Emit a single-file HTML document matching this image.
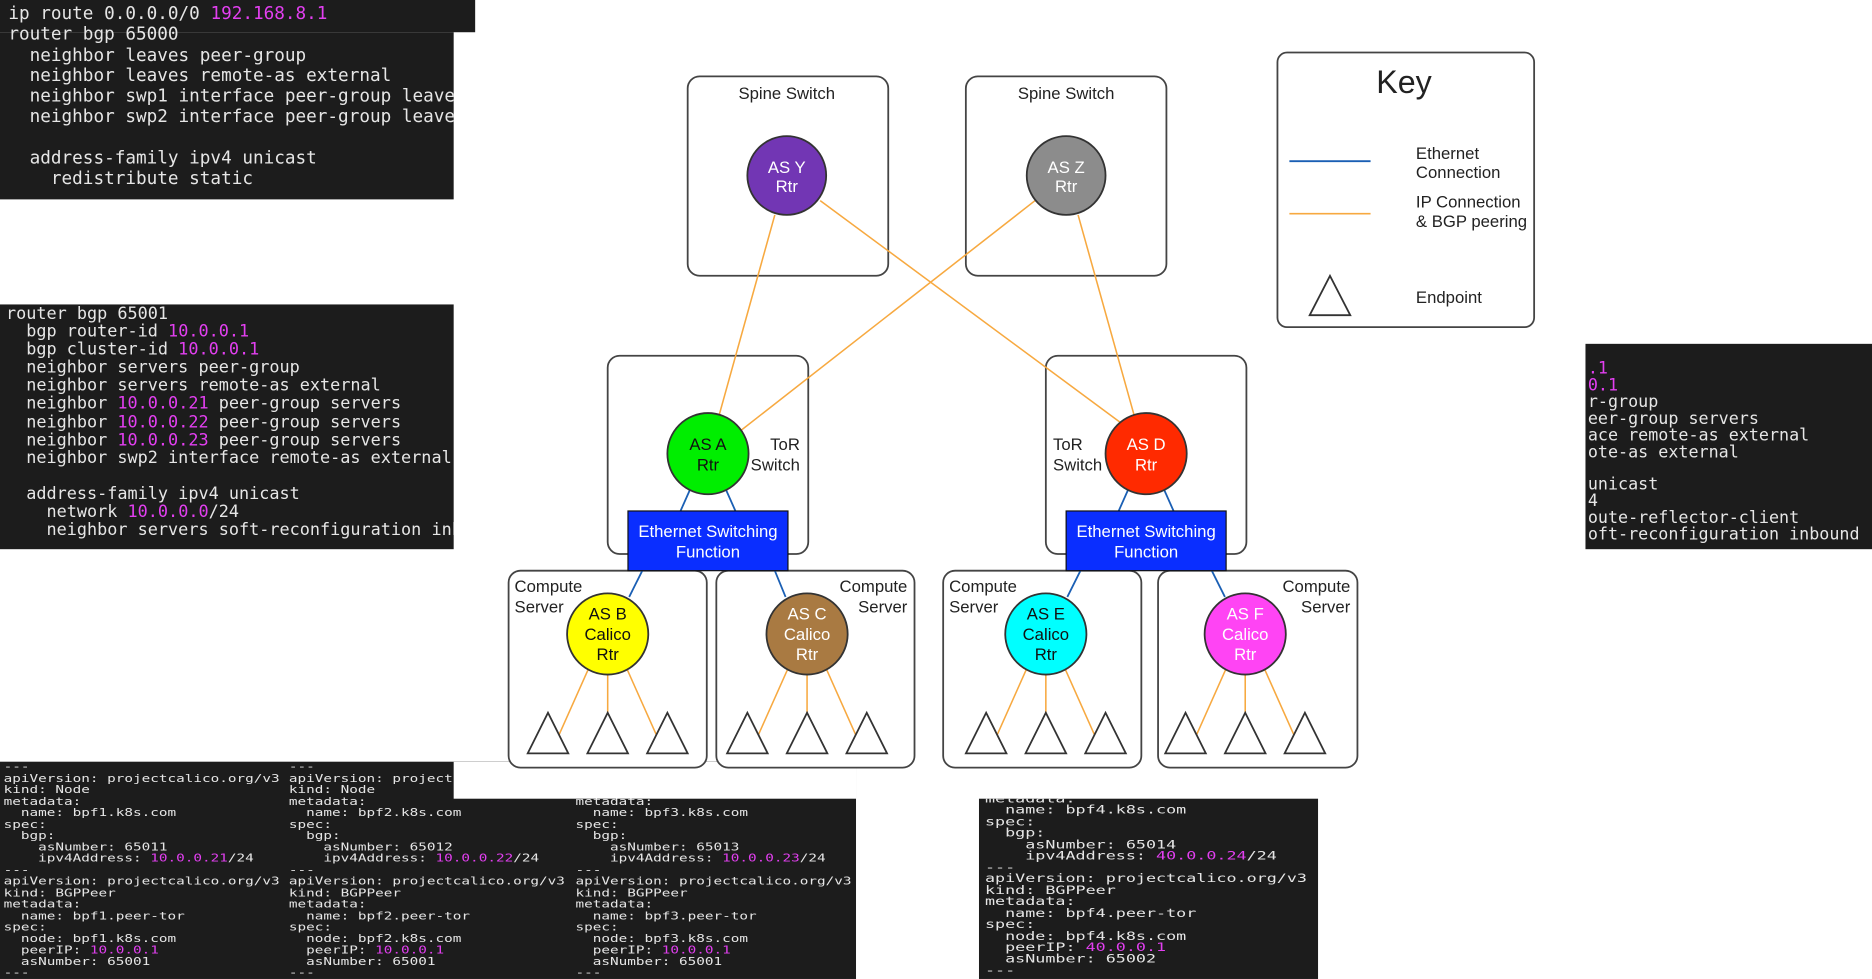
<!DOCTYPE html>
<html><head><meta charset="utf-8"><style>
html,body{margin:0;padding:0;background:#fff;width:1872px;height:979px;overflow:hidden}
#w{position:absolute;left:0;top:0;width:1568px;height:820px;transform:scale(1.19388);transform-origin:0 0}
.t{position:absolute;background:#1c1c1c;color:#e6e6e6;font-family:"DejaVu Sans Mono","Liberation Mono",monospace;white-space:pre;overflow:hidden;margin:0}
.m{color:#e23ff0}
.sq{transform:scaleY(0.71);transform-origin:0 0;line-height:13.5px}
svg text{font-family:"Liberation Sans",Arial,sans-serif}
</style></head><body><div id="w">

<div class="t" style="left:0;top:0;width:398px;height:27px"></div>
<div class="t" style="left:0;top:0;width:380px;height:167px;font-size:14.8px;line-height:17.3px;padding:3px 0 0 7px;box-sizing:border-box;background:transparent">ip route 0.0.0.0/0 <span class="m">192.168.8.1</span>
router bgp 65000
  neighbor leaves peer-group
  neighbor leaves remote-as external
  neighbor swp1 interface peer-group leaves
  neighbor swp2 interface peer-group leaves

  address-family ipv4 unicast
    redistribute static</div>
<div class="t" style="left:0;top:27px;width:380px;height:140px;z-index:-1"></div>

<div class="t" style="left:0;top:255px;width:380px;height:205px;font-size:14.1px;line-height:15.1px;padding:1px 0 0 5px;box-sizing:border-box">router bgp 65001
  bgp router-id <span class="m">10.0.0.1</span>
  bgp cluster-id <span class="m">10.0.0.1</span>
  neighbor servers peer-group
  neighbor servers remote-as external
  neighbor <span class="m">10.0.0.21</span> peer-group servers
  neighbor <span class="m">10.0.0.22</span> peer-group servers
  neighbor <span class="m">10.0.0.23</span> peer-group servers
  neighbor swp2 interface remote-as external

  address-family ipv4 unicast
    network <span class="m">10.0.0.0</span>/24
    neighbor servers soft-reconfiguration inbound</div>

<div class="t" style="left:1328px;top:288px;width:240px;height:172px;font-size:14px;line-height:13.9px;padding:15px 0 0 2px;box-sizing:border-box"><span class="m">.1</span>
<span class="m">0.1</span>
r-group
eer-group servers
ace remote-as external
ote-as external

unicast
4
oute-reflector-client
oft-reconfiguration inbound</div>

<div class="t" style="left:0;top:638px;width:717px;height:182px">
<div class="sq" style="position:absolute;left:3px;top:0;font-size:12px">---
apiVersion: projectcalico.org/v3
kind: Node
metadata:
  name: bpf1.k8s.com
spec:
  bgp:
    asNumber: 65011
    ipv4Address: <span class="m">10.0.0.21</span>/24
---
apiVersion: projectcalico.org/v3
kind: BGPPeer
metadata:
  name: bpf1.peer-tor
spec:
  node: bpf1.k8s.com
  peerIP: <span class="m">10.0.0.1</span>
  asNumber: 65001
---</div>
<div class="sq" style="position:absolute;left:242px;top:0;font-size:12px">---
apiVersion: projectcalico.org/v3
kind: Node
metadata:
  name: bpf2.k8s.com
spec:
  bgp:
    asNumber: 65012
    ipv4Address: <span class="m">10.0.0.22</span>/24
---
apiVersion: projectcalico.org/v3
kind: BGPPeer
metadata:
  name: bpf2.peer-tor
spec:
  node: bpf2.k8s.com
  peerIP: <span class="m">10.0.0.1</span>
  asNumber: 65001
---</div>
<div class="sq" style="position:absolute;left:482px;top:0;font-size:12px">---
apiVersion: projectcalico.org/v3
kind: Node
metadata:
  name: bpf3.k8s.com
spec:
  bgp:
    asNumber: 65013
    ipv4Address: <span class="m">10.0.0.23</span>/24
---
apiVersion: projectcalico.org/v3
kind: BGPPeer
metadata:
  name: bpf3.peer-tor
spec:
  node: bpf3.k8s.com
  peerIP: <span class="m">10.0.0.1</span>
  asNumber: 65001
---</div>
<div style="position:absolute;left:380px;top:0;width:337px;height:31px;background:#fff"></div>
</div>

<div class="t" style="left:820px;top:669px;width:284px;height:151px">
<div class="sq" style="position:absolute;left:5px;top:-33px;font-size:14px">---
apiVersion: projectcalico.org/v3
kind: Node
metadata:
  name: bpf4.k8s.com
spec:
  bgp:
    asNumber: 65014
    ipv4Address: <span class="m">40.0.0.24</span>/24
---
apiVersion: projectcalico.org/v3
kind: BGPPeer
metadata:
  name: bpf4.peer-tor
spec:
  node: bpf4.k8s.com
  peerIP: <span class="m">40.0.0.1</span>
  asNumber: 65002
---</div></div>

<svg style="position:absolute;left:0;top:0" width="1568" height="820" viewBox="0 0 1568 820">
<g fill="#fff" stroke="#444" stroke-width="1.5">
<rect x="576" y="64" width="168" height="167" rx="10"/>
<rect x="809" y="64" width="168" height="167" rx="10"/>
<rect x="1070" y="44" width="215" height="230" rx="8"/>
<rect x="509" y="298" width="168" height="166" rx="10"/>
<rect x="876" y="298" width="168" height="166" rx="10"/>
<rect x="426" y="478" width="166" height="165" rx="10"/>
<rect x="600" y="478" width="166" height="165" rx="10"/>
<rect x="790" y="478" width="166" height="165" rx="10"/>
<rect x="970" y="478" width="167" height="165" rx="10"/>
</g>
<g stroke="#f7a940" stroke-width="1.3">
<line x1="649" y1="180" x2="602" y2="349"/>
<line x1="687" y1="168" x2="940" y2="355"/>
<line x1="867" y1="168" x2="620" y2="361"/>
<line x1="903" y1="180" x2="950" y2="348"/>
<line x1="1080" y1="179" x2="1148" y2="179"/>
<line x1="493" y1="560" x2="464" y2="625"/><line x1="509" y1="565" x2="509" y2="600"/><line x1="525" y1="560" x2="554" y2="625"/>
<line x1="660" y1="560" x2="631" y2="625"/><line x1="676" y1="565" x2="676" y2="600"/><line x1="692" y1="560" x2="721" y2="625"/>
<line x1="860" y1="560" x2="831" y2="625"/><line x1="876" y1="565" x2="876" y2="600"/><line x1="892" y1="560" x2="921" y2="625"/>
<line x1="1027" y1="560" x2="998" y2="625"/><line x1="1043" y1="565" x2="1043" y2="600"/><line x1="1059" y1="560" x2="1088" y2="625"/>
</g>
<g stroke="#1a5fb4" stroke-width="1.5">
<line x1="1080" y1="135" x2="1148" y2="135"/>
<line x1="578" y1="410" x2="570" y2="428"/><line x1="608" y1="410" x2="616" y2="428"/>
<line x1="945" y1="410" x2="937" y2="428"/><line x1="975" y1="410" x2="983" y2="428"/>
<line x1="538" y1="478" x2="527" y2="500"/><line x1="649" y1="478" x2="658" y2="500"/>
<line x1="905" y1="478" x2="894" y2="500"/><line x1="1015" y1="478" x2="1026" y2="500"/>
</g>
<g stroke="#333" stroke-width="1.5">
<circle cx="659" cy="147" r="33" fill="#7236b4"/>
<circle cx="893" cy="147" r="33" fill="#8c8c8c"/>
<circle cx="593" cy="380" r="34" fill="#00ee00"/>
<circle cx="960" cy="380" r="34" fill="#ff2a00"/>
<circle cx="509" cy="531" r="34" fill="#ffff00"/>
<circle cx="676" cy="531" r="34" fill="#a97a42"/>
<circle cx="876" cy="531" r="34" fill="#00ffff"/>
<circle cx="1043" cy="531" r="34" fill="#ff44f4"/>
</g>
<g fill="#0a2eff" stroke="#111" stroke-width="1">
<rect x="526" y="428" width="134" height="50"/>
<rect x="893" y="428" width="134" height="50"/>
</g>
<g fill="#fff" stroke="#333" stroke-width="1.5">
<path d="M442 631 L459 597 L476 631 Z"/><path d="M492 631 L509 597 L526 631 Z"/><path d="M542 631 L559 597 L576 631 Z"/>
<path d="M609 631 L626 597 L643 631 Z"/><path d="M659 631 L676 597 L693 631 Z"/><path d="M709 631 L726 597 L743 631 Z"/>
<path d="M809 631 L826 597 L843 631 Z"/><path d="M859 631 L876 597 L893 631 Z"/><path d="M909 631 L926 597 L943 631 Z"/>
<path d="M976 631 L993 597 L1010 631 Z"/><path d="M1026 631 L1043 597 L1060 631 Z"/><path d="M1076 631 L1093 597 L1110 631 Z"/>
<path d="M1097 264 L1114 231 L1131 264 Z"/>
</g>
<g font-size="14" fill="#222">
<text x="659" y="83" text-anchor="middle">Spine Switch</text>
<text x="893" y="83" text-anchor="middle">Spine Switch</text>
<text x="1176" y="78" text-anchor="middle" font-size="27">Key</text>
<text x="1186" y="133">Ethernet</text><text x="1186" y="149">Connection</text>
<text x="1186" y="174">IP Connection</text><text x="1186" y="190">&amp; BGP peering</text>
<text x="1186" y="254">Endpoint</text>
<text x="670" y="377" text-anchor="end">ToR</text><text x="670" y="394" text-anchor="end">Switch</text>
<text x="882" y="377">ToR</text><text x="882" y="394">Switch</text>
<text x="431" y="496">Compute</text><text x="431" y="513">Server</text>
<text x="760" y="496" text-anchor="end">Compute</text><text x="760" y="513" text-anchor="end">Server</text>
<text x="795" y="496">Compute</text><text x="795" y="513">Server</text>
<text x="1131" y="496" text-anchor="end">Compute</text><text x="1131" y="513" text-anchor="end">Server</text>
</g>
<g font-size="14" text-anchor="middle">
<text x="659" y="145" fill="#fff">AS Y</text><text x="659" y="161" fill="#fff">Rtr</text>
<text x="893" y="145" fill="#fff">AS Z</text><text x="893" y="161" fill="#fff">Rtr</text>
<text x="593" y="377" fill="#111">AS A</text><text x="593" y="394" fill="#111">Rtr</text>
<text x="960" y="377" fill="#fff">AS D</text><text x="960" y="394" fill="#fff">Rtr</text>
<text x="593" y="450" fill="#fff">Ethernet Switching</text><text x="593" y="467" fill="#fff">Function</text>
<text x="960" y="450" fill="#fff">Ethernet Switching</text><text x="960" y="467" fill="#fff">Function</text>
<text x="509" y="519" fill="#111">AS B</text><text x="509" y="536" fill="#111">Calico</text><text x="509" y="553" fill="#111">Rtr</text>
<text x="676" y="519" fill="#fff">AS C</text><text x="676" y="536" fill="#fff">Calico</text><text x="676" y="553" fill="#fff">Rtr</text>
<text x="876" y="519" fill="#111">AS E</text><text x="876" y="536" fill="#111">Calico</text><text x="876" y="553" fill="#111">Rtr</text>
<text x="1043" y="519" fill="#fff">AS F</text><text x="1043" y="536" fill="#fff">Calico</text><text x="1043" y="553" fill="#fff">Rtr</text>
</g>
</svg>
</div></body></html>
